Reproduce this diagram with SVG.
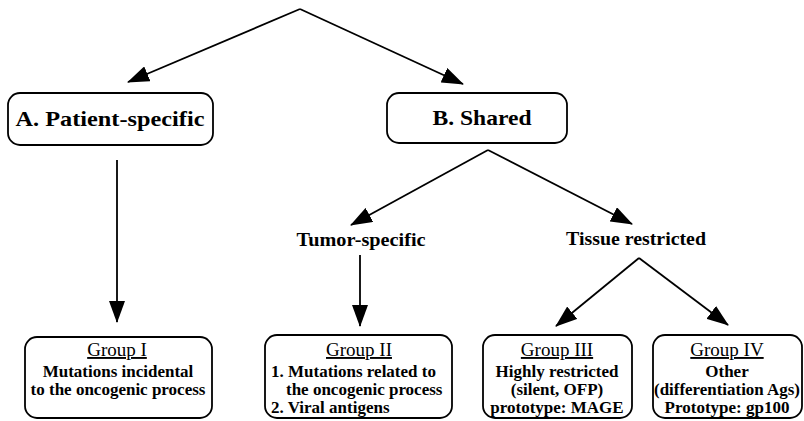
<svg xmlns="http://www.w3.org/2000/svg" width="804" height="421" viewBox="0 0 804 421">
<style>
  .box { fill: #fff; stroke: #000; stroke-width: 1.8; }
  .big { font-family: "Liberation Serif", "Times New Roman", serif; font-weight: bold; font-size: 21px; fill: #000; text-anchor: middle; }
  .mid { font-family: "Liberation Serif", "Times New Roman", serif; font-weight: bold; font-size: 19px; fill: #000; text-anchor: middle; }
  .ttl { font-family: "Liberation Serif", "Times New Roman", serif; font-size: 19px; fill: #000; text-anchor: middle; text-decoration: underline; }
  .body { font-family: "Liberation Serif", "Times New Roman", serif; font-weight: bold; font-size: 17px; fill: #000; text-anchor: middle; }
  .bodyl { font-family: "Liberation Serif", "Times New Roman", serif; font-weight: bold; font-size: 17px; fill: #000; }
  .conn line { stroke: #000; stroke-width: 1.8; marker-end: url(#arr); }
</style>
<defs>
  <marker id="arr" markerUnits="userSpaceOnUse" markerWidth="22" markerHeight="16" refX="21" refY="8" orient="auto">
    <path d="M0,0 L22,8 L0,16 z" fill="#000"/>
  </marker>
</defs>
<rect width="804" height="421" fill="#fff"/>
<g id="connectors" class="conn">
  <line x1="300" y1="9" x2="128" y2="82"/>
  <line x1="300" y1="9" x2="463" y2="84"/>
  <line x1="117" y1="160" x2="117" y2="322"/>
  <line x1="488" y1="150" x2="351" y2="225"/>
  <line x1="488" y1="150" x2="632" y2="224"/>
  <line x1="360" y1="255" x2="360" y2="326"/>
  <line x1="639" y1="258" x2="556" y2="326"/>
  <line x1="639" y1="258" x2="728" y2="325"/>
</g>
<g id="nodeA">
  <rect class="box" x="8" y="93" width="205" height="52" rx="12"/>
  <text class="big" x="110" y="126" textLength="189" lengthAdjust="spacingAndGlyphs">A. Patient-specific</text>
</g>
<g id="nodeB">
  <rect class="box" x="387" y="93" width="180" height="50" rx="12"/>
  <text class="big" x="482" y="125" textLength="99" lengthAdjust="spacingAndGlyphs">B. Shared</text>
</g>
<g id="tumor">
  <text class="mid" x="361" y="246" textLength="129" lengthAdjust="spacingAndGlyphs">Tumor-specific</text>
</g>
<g id="tissue">
  <text class="mid" x="636" y="245" textLength="140" lengthAdjust="spacingAndGlyphs">Tissue restricted</text>
</g>
<g id="group1">
  <rect class="box" x="25" y="337" width="187" height="81" rx="12"/>
  <text class="ttl" x="117" y="356">Group I</text>
  <text class="body" x="118" y="377">Mutations incidental</text>
  <text class="body" x="118" y="395">to the oncogenic process</text>
</g>
<g id="group2">
  <rect class="box" x="265" y="335" width="187" height="83" rx="12"/>
  <text class="ttl" x="359" y="356">Group II</text>
  <text class="bodyl" x="271" y="377">1. Mutations related to</text>
  <text class="bodyl" x="286" y="395">the oncogenic process</text>
  <text class="bodyl" x="271" y="413">2. Viral antigens</text>
</g>
<g id="group3">
  <rect class="box" x="483" y="335" width="149" height="83" rx="12"/>
  <text class="ttl" x="557" y="356">Group III</text>
  <text class="body" x="557" y="377">Highly restricted</text>
  <text class="body" x="557" y="395">(silent, OFP)</text>
  <text class="body" x="557" y="413">prototype: MAGE</text>
</g>
<g id="group4">
  <rect class="box" x="653" y="335" width="149" height="83" rx="12"/>
  <text class="ttl" x="727" y="356">Group IV</text>
  <text class="body" x="727" y="377">Other</text>
  <text class="body" x="727" y="395" textLength="146" lengthAdjust="spacingAndGlyphs">(differentiation Ags)</text>
  <text class="body" x="727" y="413">Prototype: gp100</text>
</g>
</svg>
